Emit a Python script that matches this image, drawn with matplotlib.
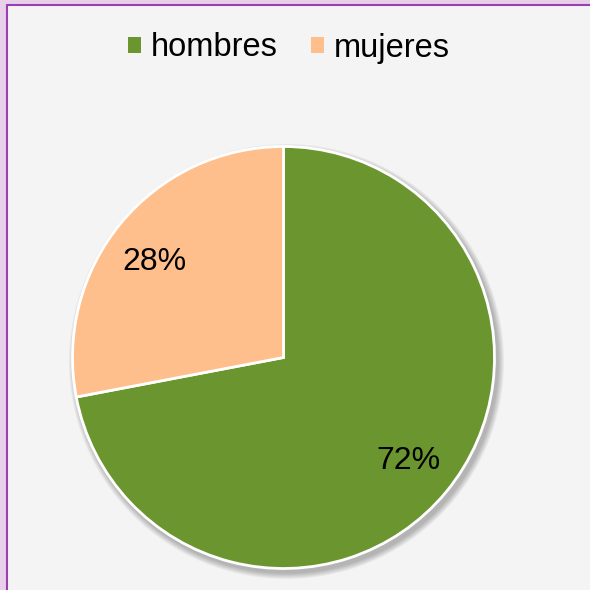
import numpy as np
import matplotlib.pyplot as plt
from matplotlib.patches import Rectangle, Circle, Patch

labels = ["hombres", "mujeres"]
values = [72, 28]
colors = ["#6b962f", "#ffbf8c"]

plt.rcParams['font.family'] = ['Liberation Sans', 'DejaVu Sans']

W = 590
fig = plt.figure(figsize=(5.9, 5.9), dpi=100)
fig.patch.set_facecolor("#f4f4f4")
ax = fig.add_axes([0, 0, 1, 1])

cx, cy, r = 283.5, W - 357.5, 211

# soft shadow under the pie
for i in range(8):
    ax.add_patch(Circle((cx + 3, cy - 4), r + 1 + i * 0.8, color="#000000",
                        alpha=0.035, lw=0, zorder=0))

wedges, texts, autotexts = ax.pie(
    values, colors=colors, startangle=90, counterclock=False,
    center=(cx, cy), radius=r, autopct="%d%%", pctdistance=0.77,
    wedgeprops=dict(edgecolor="white", linewidth=2),
    textprops=dict(fontsize=23, color="black"))
for w in wedges:
    w.set_zorder(2)
for t in autotexts:
    t.set_zorder(3)

# Excel places the small-slice label a bit lower than the mid angle
ang = np.deg2rad(143.5)
autotexts[1].set_position((cx + 0.76 * r * np.cos(ang), cy + 0.76 * r * np.sin(ang)))

ax.set_xlim(0, W)
ax.set_ylim(0, W)
ax.set_aspect("equal")
ax.axis("off")

# frame on left and top
ax.add_patch(Rectangle((0, 0), 6, W, color="#e8d0ea", lw=0, zorder=5))
ax.add_patch(Rectangle((0, W - 4), W, 4, color="#e8d0ea", lw=0, zorder=5))
ax.plot([7, 7], [0, W - 5], color="#9a3fb0", lw=1.5, zorder=6,
        solid_capstyle="butt")
ax.plot([6, W], [W - 5, W - 5], color="#9a3fb0", lw=1.5, zorder=6,
        solid_capstyle="butt")

handles = [Patch(facecolor=c, edgecolor="none") for c in colors]
fig.legend(handles, labels, loc="center", ncol=2,
           bbox_to_anchor=(289 / W, 1 - 48 / W), frameon=False,
           fontsize=23.5, handlelength=0.4, handleheight=0.4,
           handletextpad=0.3, columnspacing=1.0, borderpad=0)

fig.savefig("out.png", dpi=100, facecolor=fig.get_facecolor())
